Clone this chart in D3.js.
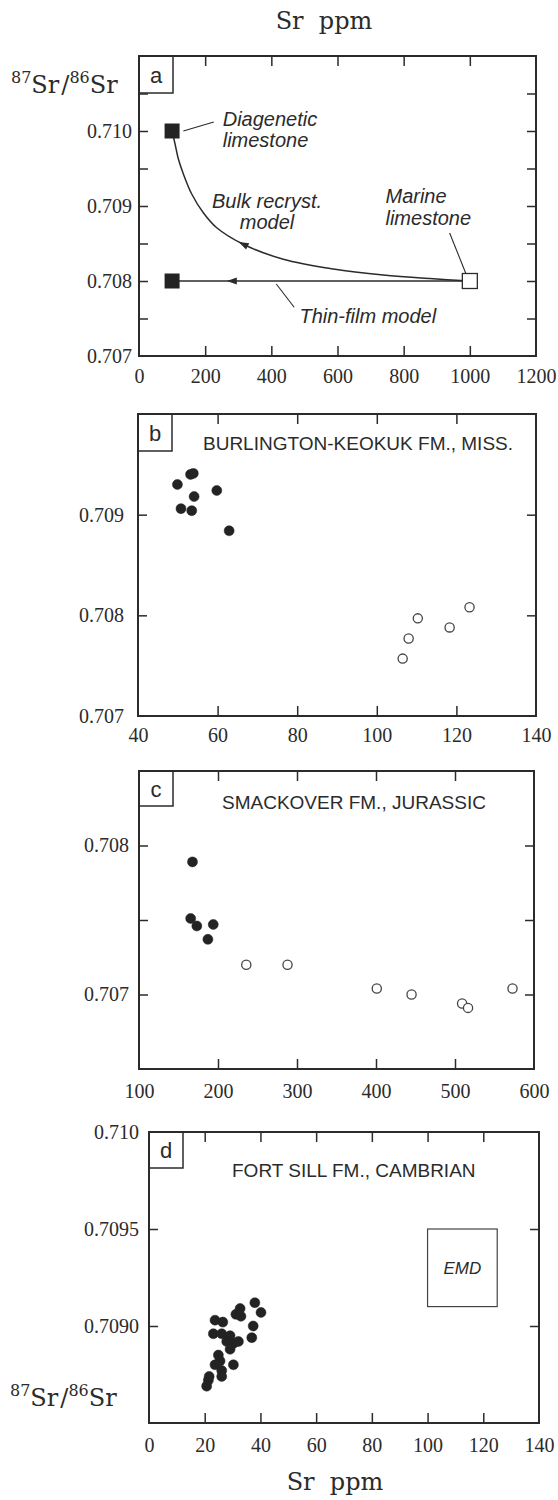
<!DOCTYPE html>
<html>
<head>
<meta charset="utf-8">
<script src="https://cdn.jsdelivr.net/npm/d3@7"></script>
<style>
  body { margin: 0; background: #fff; }
  svg { display: block; }
  text { fill: #2b2b2b; }
</style>
</head>
<body>
<script>
// ---- panel a : model end members and paths ----
const aFilledSquares = [[100, 0.710], [100, 0.708]];
const aOpenSquares = [[1000, 0.708]];
const bulkRecryst = [[1000, 0.708], [889.6, 0.70803], [738.4, 0.70808], [587.3, 0.70816], [436.2, 0.70829],
  [315.3, 0.70849], [234.9, 0.70871], [194.4, 0.70891], [159.3, 0.70916], [133.9, 0.70943],
  [118.8, 0.70963], [108.8, 0.70983], [100, 0.710]];
const thinFilm = [[1000, 0.708], [100, 0.708]];
const bulkArrow = [315.3, 0.70849];
const thinArrow = [280, 0.708];
const aXTicks = [0, 200, 400, 600, 800, 1000, 1200];
const aYTicks = [0.7075, 0.708, 0.7085, 0.709, 0.7095, 0.710, 0.7105];
const aYLabels = [0.707, 0.708, 0.709, 0.710];

// ---- panel b : Burlington-Keokuk ----
const bFilled = [[49.9, 0.70930], [53.2, 0.70940], [53.9, 0.70941], [54.1, 0.70918], [59.8, 0.70924],
  [50.8, 0.70906], [53.5, 0.70904], [62.9, 0.70884]];
const bOpen = [[110.3, 0.70797], [108.0, 0.70777], [106.5, 0.70757], [118.3, 0.70788], [123.3, 0.70808]];
const bXTicks = [40, 60, 80, 100, 120, 140];
const bYTicks = [0.708, 0.709];
const bYLabels = [0.707, 0.708, 0.709];

// ---- panel c : Smackover ----
const cFilled = [[167.7, 0.70789], [165.4, 0.70751], [173.2, 0.70746], [194, 0.70747], [187.2, 0.70737]];
const cOpen = [[235.8, 0.70720], [288, 0.70720], [401, 0.70704], [445, 0.70700], [509, 0.70694],
  [516.5, 0.70691], [572.8, 0.70704]];
const cXTicks = [100, 200, 300, 400, 500, 600];
const cYTicks = [0.707, 0.7075, 0.708];
const cYLabels = [0.707, 0.708];

// ---- panel d : Fort Sill ----
const dFilled = [[38.0, 0.70912], [40.2, 0.70907], [31.2, 0.70906], [32.7, 0.70909], [33.0, 0.70905],
  [23.7, 0.70903], [26.5, 0.70902], [37.4, 0.70900], [23.1, 0.70896], [26.1, 0.70896], [29.1, 0.70895],
  [27.9, 0.70892], [30.3, 0.70891], [32.1, 0.70892], [29.1, 0.70888], [36.9, 0.70894], [24.9, 0.70885],
  [25.5, 0.70882], [23.7, 0.70880], [30.3, 0.70880], [26.1, 0.70877], [26.1, 0.70874], [21.3, 0.70872],
  [20.7, 0.70869], [21.6, 0.70874]];
const emdBox = {sr: [100, 125], ratio: [0.7091, 0.7095]};
const dXTicks = [0, 20, 40, 60, 80, 100, 120, 140];
const dYTicks = [0.709, 0.7095];
const dYLabels = [0.709, 0.7095, 0.710];
const dYLabelText = ["0.7090", "0.7095", "0.710"];

const svg = d3.select("body").append("svg").attr("width", 558).attr("height", 1500);
const serif = "'Liberation Serif', serif";
const sans = "'Liberation Sans', Arial, sans-serif";

function panel(p) {
  const x = d3.scaleLinear().domain(p.xDomain).range([p.left, p.right]);
  const y = d3.scaleLinear().domain(p.yDomain).range([p.bottom, p.top]);
  const g = svg.append("g").style("color", "#2b2b2b");
  const noDomain = s => s.select(".domain").remove();
  const inner = p.xTicks.filter(v => v > p.xDomain[0] && v < p.xDomain[1]);

  // inward ticks on all four sides
  g.append("g").attr("transform", `translate(0,${p.bottom})`)
    .call(d3.axisBottom(x).tickValues(inner).tickSize(-10).tickFormat("")).call(noDomain);
  g.append("g").attr("transform", `translate(0,${p.top})`)
    .call(d3.axisTop(x).tickValues(inner).tickSize(-10).tickFormat("")).call(noDomain);
  g.append("g").attr("transform", `translate(${p.left},0)`)
    .call(d3.axisLeft(y).tickValues(p.yTicks).tickSize(-9).tickFormat("")).call(noDomain);
  g.append("g").attr("transform", `translate(${p.right},0)`)
    .call(d3.axisRight(y).tickValues(p.yTicks).tickSize(-9).tickFormat("")).call(noDomain);
  g.selectAll(".tick line").attr("stroke-width", 1.5);

  // tick labels
  const xl = g.append("g").attr("transform", `translate(0,${p.bottom})`)
    .call(d3.axisBottom(x).tickValues(p.xTicks).tickSize(0).tickFormat(d3.format("d"))).call(noDomain);
  xl.selectAll("text").attr("y", p.xLabelY).attr("dy", null);
  const yl = g.append("g").attr("transform", `translate(${p.left},0)`)
    .call(d3.axisLeft(y).tickValues(p.yLabels).tickSize(0).tickPadding(p.yPad)
      .tickFormat(p.yText ? (d, i) => p.yText[i] : d3.format(".3f"))).call(noDomain);
  [xl, yl].forEach(a => a.attr("font-family", serif).attr("font-size", 20));

  // frame
  g.append("rect").attr("x", p.left).attr("y", p.top)
    .attr("width", p.right - p.left).attr("height", p.bottom - p.top)
    .attr("fill", "none").attr("stroke", "#2b2b2b").attr("stroke-width", 2);

  // panel letter box
  g.append("rect").attr("x", p.left).attr("y", p.top).attr("width", 34).attr("height", p.boxH)
    .attr("fill", "none").attr("stroke", "#2b2b2b").attr("stroke-width", 1.5);
  g.append("text").attr("x", p.left + 17).attr("y", p.top + p.boxH / 2 + 8)
    .attr("text-anchor", "middle").attr("font-family", sans).attr("font-size", 22).text(p.letter);

  if (p.title) {
    g.append("text").attr("x", p.left + p.titleDx).attr("y", p.top + p.titleDy)
      .attr("font-family", sans).attr("font-size", 19).text(p.title);
  }
  return {x, y, g};
}

function dots(pn, data, filled) {
  pn.g.append("g").selectAll("circle").data(data).join("circle")
    .attr("cx", d => pn.x(d[0])).attr("cy", d => pn.y(d[1]))
    .attr("r", filled ? 5 : 4.6)
    .attr("fill", filled ? "#232323" : "#fff")
    .attr("stroke", filled ? "#232323" : "#444").attr("stroke-width", filled ? 0.5 : 1.3);
}

function arrowHead(g, node, tx, ty) {
  const len = node.getTotalLength();
  let best = 0, bestD = Infinity;
  for (let l = 0; l <= len; l += 0.5) {
    const q = node.getPointAtLength(l);
    const dd = (q.x - tx) ** 2 + (q.y - ty) ** 2;
    if (dd < bestD) { bestD = dd; best = l; }
  }
  const a = node.getPointAtLength(Math.max(0, best - 2));
  const b = node.getPointAtLength(Math.min(len, best + 2));
  const ang = Math.atan2(b.y - a.y, b.x - a.x) * 180 / Math.PI;
  const c = node.getPointAtLength(best);
  g.append("path").attr("d", "M5,0L-5,-3.6L-5,3.6Z").attr("fill", "#2b2b2b")
    .attr("transform", `translate(${c.x},${c.y}) rotate(${ang})`);
}

function ratioLabel(x0, baseline) {
  const t = svg.append("text").attr("x", x0).attr("y", baseline)
    .attr("font-family", "'DejaVu Serif', serif").attr("font-size", 24);
  t.append("tspan").attr("font-size", 16).attr("dy", -10).text("87");
  t.append("tspan").attr("dy", 10).text("Sr");
  t.append("tspan").attr("dx", 2).text("/");
  t.append("tspan").attr("font-size", 16).attr("dy", -10).text("86");
  t.append("tspan").attr("dy", 10).text("Sr");
}

function srLabel(cx, baseline) {
  svg.append("text").attr("x", cx).attr("y", baseline).attr("text-anchor", "middle")
    .attr("font-family", "'DejaVu Serif', serif").attr("font-size", 24)
    .style("white-space", "pre").text("Sr  ppm");
}

// ---------- panel a ----------
const A = panel({left: 139, right: 536, top: 56, bottom: 356, xDomain: [0, 1200], yDomain: [0.707, 0.711],
  xTicks: aXTicks, yTicks: aYTicks, yLabels: aYLabels, xLabelY: 27, yPad: 7, letter: "a", boxH: 37});

const bulkPath = A.g.append("path").datum(bulkRecryst)
  .attr("d", d3.line().x(d => A.x(d[0])).y(d => A.y(d[1])).curve(d3.curveCatmullRom.alpha(0.5)))
  .attr("fill", "none").attr("stroke", "#2b2b2b").attr("stroke-width", 1.5);
const thinPath = A.g.append("path").datum(thinFilm)
  .attr("d", d3.line().x(d => A.x(d[0])).y(d => A.y(d[1])))
  .attr("fill", "none").attr("stroke", "#2b2b2b").attr("stroke-width", 1.5);
arrowHead(A.g, bulkPath.node(), A.x(bulkArrow[0]), A.y(bulkArrow[1]));
arrowHead(A.g, thinPath.node(), A.x(thinArrow[0]), A.y(thinArrow[1]));

A.g.selectAll("rect.fsq").data(aFilledSquares).join("rect").attr("class", "fsq")
  .attr("x", d => A.x(d[0]) - 7.5).attr("y", d => A.y(d[1]) - 7.5).attr("width", 15).attr("height", 15)
  .attr("fill", "#232323");
A.g.selectAll("rect.osq").data(aOpenSquares).join("rect").attr("class", "osq")
  .attr("x", d => A.x(d[0]) - 7.5).attr("y", d => A.y(d[1]) - 7.5).attr("width", 15).attr("height", 15)
  .attr("fill", "#fff").attr("stroke", "#2b2b2b").attr("stroke-width", 1.3);

// annotations
const ann = (v, s, t, anchor) => A.g.append("text").attr("x", A.x(v)).attr("y", A.y(s))
  .attr("text-anchor", anchor || "start").attr("font-family", sans).attr("font-style", "italic")
  .attr("font-size", 20).text(t);
ann(253, 0.71007, "Diagenetic");
ann(253, 0.70979, "limestone");
ann(387, 0.70897, "Bulk recryst.", "middle");
ann(387, 0.70869, "model", "middle");
ann(745, 0.70904, "Marine");
ann(745, 0.70875, "limestone");
ann(485, 0.70744, "Thin-film model");
const leader = (x1, y1, x2, y2) => A.g.append("line")
  .attr("x1", A.x(x1)).attr("y1", A.y(y1)).attr("x2", A.x(x2)).attr("y2", A.y(y2))
  .attr("stroke", "#2b2b2b").attr("stroke-width", 1.1);
leader(134, 0.71000, 226, 0.71012);
leader(939, 0.70864, 988, 0.70810);
leader(415, 0.70796, 469, 0.70765);

// ---------- panel b ----------
const B = panel({left: 138, right: 536, top: 414, bottom: 716, xDomain: [40, 140], yDomain: [0.707, 0.710],
  xTicks: bXTicks, yTicks: bYTicks, yLabels: bYLabels, xLabelY: 26, yPad: 14, letter: "b", boxH: 37,
  title: "BURLINGTON-KEOKUK FM., MISS.", titleDx: 65, titleDy: 36});
dots(B, bOpen, false);
dots(B, bFilled, true);

// ---------- panel c ----------
const C = panel({left: 139, right: 534, top: 771, bottom: 1069, xDomain: [100, 600], yDomain: [0.7065, 0.7085],
  xTicks: cXTicks, yTicks: cYTicks, yLabels: cYLabels, xLabelY: 29, yPad: 10, letter: "c", boxH: 35,
  title: "SMACKOVER FM., JURASSIC", titleDx: 83, titleDy: 38});
dots(C, cOpen, false);
dots(C, cFilled, true);

// ---------- panel d ----------
const D = panel({left: 149, right: 539, top: 1132, bottom: 1423, xDomain: [0, 140], yDomain: [0.7085, 0.710],
  xTicks: dXTicks, yTicks: dYTicks, yLabels: dYLabels, yText: dYLabelText, xLabelY: 29, yPad: 10,
  letter: "d", boxH: 36, title: "FORT SILL FM., CAMBRIAN", titleDx: 83, titleDy: 45});
D.g.append("rect").attr("x", D.x(emdBox.sr[0])).attr("y", D.y(emdBox.ratio[1]))
  .attr("width", D.x(emdBox.sr[1]) - D.x(emdBox.sr[0]))
  .attr("height", D.y(emdBox.ratio[0]) - D.y(emdBox.ratio[1]))
  .attr("fill", "none").attr("stroke", "#444").attr("stroke-width", 1.2);
D.g.append("text").attr("x", D.x((emdBox.sr[0] + emdBox.sr[1]) / 2))
  .attr("y", D.y((emdBox.ratio[0] + emdBox.ratio[1]) / 2) + 6)
  .attr("text-anchor", "middle").attr("font-family", sans).attr("font-style", "italic")
  .attr("font-size", 17).text("EMD");
dots(D, dFilled, true);

// shared axis titles
srLabel(324, 29);
srLabel(335, 1490);
ratioLabel(11, 93);
ratioLabel(10, 1406);
</script>
</body>
</html>
